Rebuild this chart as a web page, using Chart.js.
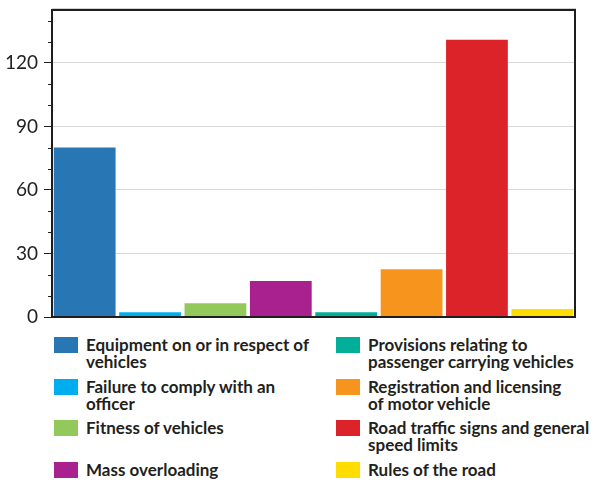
<!DOCTYPE html>
<html>
<head>
<meta charset="utf-8">
<script src="https://cdn.jsdelivr.net/npm/chart.js@4"></script>
<style>
  html, body { margin: 0; padding: 0; background: #fff; overflow: hidden; }
  #wrap { position: relative; width: 595px; height: 482px; }
  #box { position: absolute; left: 0; top: 0; width: 595px; height: 332px; }
  #legend {
    position: absolute; left: 54px; top: 337px;
    display: grid; grid-auto-flow: column;
    grid-template-rows: repeat(4, 41.7px);
    grid-template-columns: 282px 260px;
    font-family: Lato, "Open Sans", sans-serif; font-weight: bold;
    font-size: 17px; line-height: 17px; color: #231f20;
  }
  .item { display: flex; align-items: flex-start; white-space: nowrap; }
  .sw { width: 24px; height: 16px; margin-right: 8px; flex: none; }
  .txt { margin-top: -1px; }
</style>
</head>
<body>
<div id="wrap">
  <div id="box"><canvas id="grafico"></canvas></div>
  <div id="legend"></div>
</div>
<script>
(()=>{
const categorias = [
    ['Equipment on or in respect of', 'vehicles'],
    ['Failure to comply with an', 'officer'],
    ['Fitness of vehicles'],
    ['Mass overloading'],
    ['Provisions relating to', 'passenger carrying vehicles'],
    ['Registration and licensing', 'of motor vehicle'],
    ['Road traffic signs and general', 'speed limits'],
    ['Rules of the road']
];
const valores = [80, 2.2, 6.5, 17, 2.2, 22.6, 131, 3.8];
const colores = ['#2876b3', '#00aeef', '#93c95b', '#a8218e', '#00ae9a', '#f7941d', '#dc2329', '#ffdd00'];
const ticksY = [0, 30, 60, 90, 120];

// leyenda en HTML (las etiquetas tienen dos lineas)
const leyenda = document.getElementById('legend');
categorias.forEach((lineas, i) => {
    const item = document.createElement('div');
    item.className = 'item';
    const sw = document.createElement('span');
    sw.className = 'sw';
    sw.style.background = colores[i];
    const txt = document.createElement('span');
    txt.className = 'txt';
    txt.innerHTML = lineas.join('<br>');
    item.appendChild(sw);
    item.appendChild(txt);
    leyenda.appendChild(item);
});

// marco del grafico y ticks menores
const marco = {
    id: 'marco',
    afterDraw(chart) {
        const { ctx, chartArea: a } = chart;
        const y = chart.scales.y;
        ctx.save();
        ctx.strokeStyle = '#222';
        ctx.lineWidth = 1;
        for (let v = 10; v <= 140; v += 10) {
            if (ticksY.includes(v)) continue;
            const py = Math.round(y.getPixelForValue(v)) + 0.5;
            ctx.beginPath();
            ctx.moveTo(a.left - 4, py);
            ctx.lineTo(a.left, py);
            ctx.stroke();
        }
        ctx.strokeStyle = '#d0d0d0';
        ctx.beginPath();
        ctx.moveTo(a.left, a.top - 1.5);
        ctx.lineTo(a.right + 1, a.top - 1.5);
        ctx.stroke();
        ctx.strokeStyle = '#1e1e1e';
        ctx.lineWidth = 2;
        ctx.strokeRect(a.left, a.top, a.right - a.left, a.bottom - a.top);
        ctx.restore();
    }
};

new Chart(document.getElementById('grafico'), {
    type: 'bar',
    data: {
        labels: categorias.map(l => l.join(' ')),
        datasets: [{
            data: valores,
            backgroundColor: colores,
            barPercentage: 0.945,
            categoryPercentage: 1
        }]
    },
    options: {
        responsive: true,
        maintainAspectRatio: false,
        animation: false,
        layout: { padding: { top: 10, right: 20, bottom: 15, left: 0 } },
        plugins: { legend: { display: false }, tooltip: { enabled: false } },
        scales: {
            x: { display: false },
            y: {
                min: 0,
                max: 145,
                afterFit: s => { s.width = 52; s.paddingTop = 0; s.paddingBottom = 0; },
                afterBuildTicks: s => { s.ticks = ticksY.map(v => ({ value: v })); },
                border: { display: false },
                grid: {
                    color: c => c.tick && c.tick.value > 0 ? '#d9d9d9' : 'transparent',
                    tickColor: '#222',
                    tickLength: 8,
                    lineWidth: 1
                },
                ticks: {
                    padding: 6,
                    color: '#222',
                    font: { family: 'Lato, "Open Sans", sans-serif', size: 19 }
                }
            }
        }
    },
    plugins: [marco]
});
})();
</script>
</body>
</html>
